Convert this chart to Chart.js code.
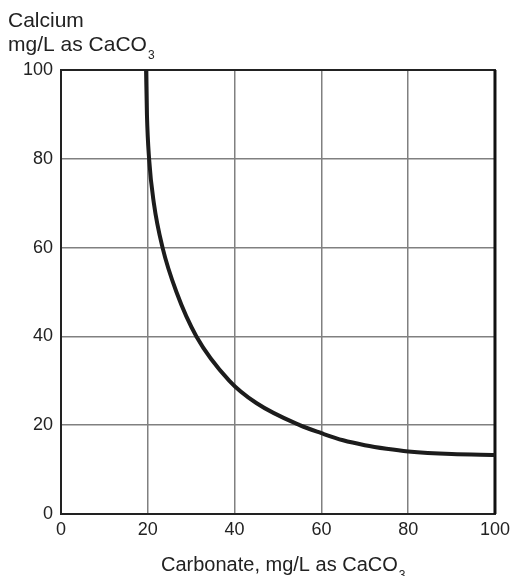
<!DOCTYPE html>
<html>
<head>
<meta charset="utf-8">
<script src="https://cdn.jsdelivr.net/npm/chart.js@4/dist/chart.umd.min.js"></script>
<style>
  html, body { margin: 0; padding: 0; background: #fff; }
  #wrap { width: 515px; height: 576px; }
</style>
</head>
<body>
<div id="wrap"><canvas id="chart"></canvas></div>
<script>
// valeurs (carbonate -> calcium, mg/L en CaCO3)
const carbonate = [19.6, 19.8, 20.3, 21.4, 23.4, 26.6, 31.2, 38.8, 45, 55, 60, 65, 70, 75, 80, 90, 100];
const calcium   = [100, 90, 80, 70, 60, 50, 40, 30, 25, 20, 18.2, 16.6, 15.5, 14.7, 14.1, 13.5, 13.3];
const tickValues = [0, 20, 40, 60, 80, 100];

const FONT = '"Liberation Sans", Arial, sans-serif';

// texte avec indice (CaCO3)
function drawSubText(ctx, x, y, main, sub, size) {
    ctx.font = size + 'px ' + FONT;
    ctx.fillText(main, x, y);
    const w = ctx.measureText(main).width;
    ctx.font = '12px ' + FONT;
    ctx.fillText(sub, x + w + 1, y + 8);
}

const titlesPlugin = {
    id: 'titles',
    beforeDatasetsDraw(chart) {
        const { ctx, chartArea: a } = chart;
        ctx.save();
        // cadre du graphique
        ctx.strokeStyle = '#222';
        ctx.lineWidth = 2;
        ctx.strokeRect(a.left, a.top, a.right - a.left, a.bottom - a.top);
        ctx.lineWidth = 3;
        ctx.strokeStyle = '#111';
        ctx.beginPath();
        ctx.moveTo(a.right, a.top);
        ctx.lineTo(a.right, a.bottom);
        ctx.stroke();
        ctx.restore();
    },
    afterDraw(chart) {
        const ctx = chart.ctx;
        ctx.save();
        ctx.fillStyle = '#222';
        ctx.textAlign = 'left';
        ctx.textBaseline = 'alphabetic';
        ctx.font = '21px ' + FONT;
        ctx.fillText('Calcium', 8, 27);
        drawSubText(ctx, 8, 51, 'mg/L as CaCO', '3', 21);
        drawSubText(ctx, 161, 571, 'Carbonate, mg/L as CaCO', '3', 20);
        ctx.restore();
    }
};

new Chart(document.getElementById('chart'), {
    type: 'scatter',
    data: {
        datasets: [{
            data: carbonate.map((c, i) => ({ x: c, y: calcium[i] })),
            showLine: true,
            borderColor: '#1c1c1c',
            borderWidth: 4,
            pointRadius: 0,
            cubicInterpolationMode: 'monotone',
            fill: false
        }]
    },
    options: {
        responsive: true,
        maintainAspectRatio: false,
        animation: false,
        layout: { padding: { left: 0, top: 70, right: 14, bottom: 0 } },
        plugins: {
            legend: { display: false },
            tooltip: { enabled: false }
        },
        scales: {
            x: {
                type: 'linear',
                min: 0, max: 100,
                afterFit: s => { s.height = 62; },
                afterBuildTicks: s => { s.ticks = tickValues.map(v => ({ value: v })); },
                grid: { color: '#808080', lineWidth: 1.5, drawTicks: false },
                border: { display: false },
                ticks: { color: '#222', font: { family: FONT, size: 18 }, padding: 5, maxRotation: 0 }
            },
            y: {
                type: 'linear',
                min: 0, max: 100,
                afterFit: s => { s.width = 61; },
                afterBuildTicks: s => { s.ticks = tickValues.map(v => ({ value: v })); },
                grid: { color: '#808080', lineWidth: 1.5, drawTicks: false },
                border: { display: false },
                ticks: { color: '#222', font: { family: FONT, size: 18 }, padding: 8 }
            }
        }
    },
    plugins: [titlesPlugin]
});
</script>
</body>
</html>
